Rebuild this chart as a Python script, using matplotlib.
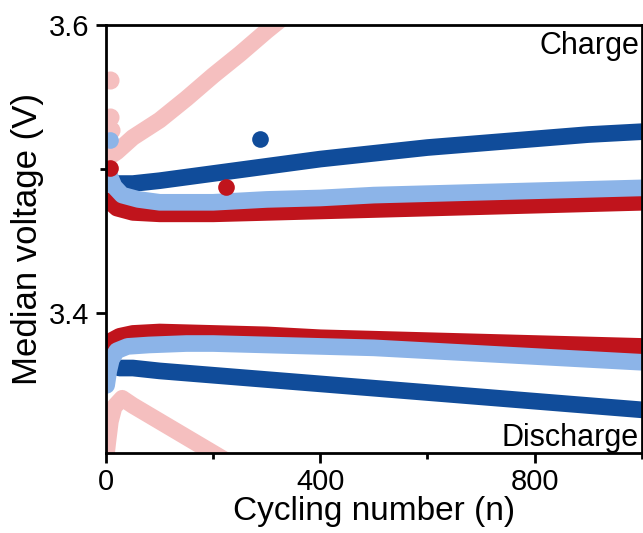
import matplotlib
matplotlib.use("Agg")
import matplotlib.pyplot as plt
from matplotlib.ticker import MultipleLocator

plt.rcParams['font.family'] = ['Liberation Sans', 'DejaVu Sans']

# charge branch
pink_c_n = [12, 20, 50, 100, 150, 200, 250, 300, 350]
pink_c_v = [3.510, 3.512, 3.522, 3.534, 3.549, 3.565, 3.580, 3.596, 3.611]
dblue_c_n = [15, 50, 100, 200, 300, 400, 500, 600, 700, 800, 900, 1000]
dblue_c_v = [3.490, 3.490, 3.492, 3.497, 3.502, 3.507, 3.511, 3.515, 3.518, 3.521, 3.524, 3.526]
red_c_n = [5, 20, 50, 100, 200, 300, 400, 500, 600, 700, 800, 900, 1000]
red_c_v = [3.478, 3.473, 3.470, 3.469, 3.469, 3.470, 3.471, 3.472, 3.473, 3.474, 3.475, 3.476, 3.477]
lblue_c_n = [5, 15, 30, 60, 100, 200, 300, 400, 500, 600, 700, 800, 900, 1000]
lblue_c_v = [3.497, 3.488, 3.482, 3.479, 3.477, 3.477, 3.479, 3.480, 3.482, 3.483, 3.484, 3.485, 3.486, 3.487]

# discharge branch
pink_d_n = [0, 3, 8, 15, 30, 50, 100, 150, 200, 250]
pink_d_v = [3.300, 3.310, 3.325, 3.335, 3.341, 3.336, 3.325, 3.314, 3.303, 3.292]
dblue_d_n = [25, 50, 100, 200, 300, 400, 500, 600, 700, 800, 900, 1000]
dblue_d_v = [3.362, 3.362, 3.360, 3.357, 3.354, 3.351, 3.348, 3.345, 3.342, 3.339, 3.336, 3.333]
red_d_n = [2, 10, 25, 50, 100, 200, 300, 400, 500, 600, 700, 800, 900, 1000]
red_d_v = [3.378, 3.381, 3.384, 3.386, 3.387, 3.386, 3.385, 3.383, 3.382, 3.381, 3.380, 3.379, 3.378, 3.377]
lblue_d_n = [1, 5, 10, 20, 40, 80, 150, 200, 300, 400, 500, 600, 700, 800, 900, 1000]
lblue_d_v = [3.350, 3.360, 3.368, 3.374, 3.377, 3.378, 3.379, 3.379, 3.378, 3.377, 3.376, 3.374, 3.372, 3.370, 3.368, 3.366]

# single scattered points
dots_n = [8, 8, 10, 7, 7, 223, 288]
dots_v = [3.562, 3.536, 3.527, 3.520, 3.501, 3.4875, 3.521]
dots_c = ['#f5bfbf', '#f5bfbf', '#f5bfbf', '#8cb4e8', '#c0141c', '#c0141c', '#104c9a']

pink, dblue, red, lblue = '#f5bfbf', '#104c9a', '#c0141c', '#8cb4e8'

fig = plt.figure(figsize=(6.43, 5.33), dpi=100)
ax = fig.add_axes([0.165, 0.150, 0.833, 0.803])

kw = dict(lw=12, solid_capstyle='round', solid_joinstyle='round')
ax.plot(pink_c_n, pink_c_v, color=pink, **kw)
ax.plot(pink_d_n, pink_d_v, color=pink, **kw)
for n, v, c in zip(dots_n[:3], dots_v[:3], dots_c[:3]):
    ax.plot(n, v, 'o', color=c, markersize=13, markeredgewidth=0)
ax.plot(dblue_c_n, dblue_c_v, color=dblue, **kw)
ax.plot(dblue_d_n, dblue_d_v, color=dblue, **kw)
ax.plot(red_c_n, red_c_v, color=red, **kw)
ax.plot(red_d_n, red_d_v, color=red, **kw)
ax.plot(lblue_c_n, lblue_c_v, color=lblue, **kw)
ax.plot(lblue_d_n, lblue_d_v, color=lblue, **kw)
for n, v, c in zip(dots_n[3:], dots_v[3:], dots_c[3:]):
    ax.plot(n, v, 'o', color=c, markersize=12, markeredgewidth=0)

ax.set_xlim(0, 1000)
ax.set_ylim(3.303, 3.6)
ax.xaxis.set_major_locator(MultipleLocator(400))
ax.xaxis.set_minor_locator(MultipleLocator(200))
ax.yaxis.set_minor_locator(MultipleLocator(0.1))
ax.set_yticks([3.4, 3.6])
ax.set_yticklabels(['3.4', '3.6'])
ax.tick_params(which='major', direction='out', length=7, width=2, labelsize=21, pad=4)
ax.tick_params(which='minor', direction='out', length=4, width=2)
ax.tick_params(axis='y', which='major', pad=5)
for s in ax.spines.values():
    s.set_linewidth(2)

ax.set_xlabel('Cycling number (n)', fontsize=24, labelpad=0)
ax.set_ylabel('Median voltage (V)', fontsize=25)
ax.yaxis.set_label_coords(-0.115, 0.5)

ax.text(0.995, 0.985, 'Charge', transform=ax.transAxes, ha='right', va='top', fontsize=22)
ax.text(0.995, 0.0, 'Discharge', transform=ax.transAxes, ha='right', va='bottom', fontsize=22)

fig.savefig('out.png', dpi=100)
